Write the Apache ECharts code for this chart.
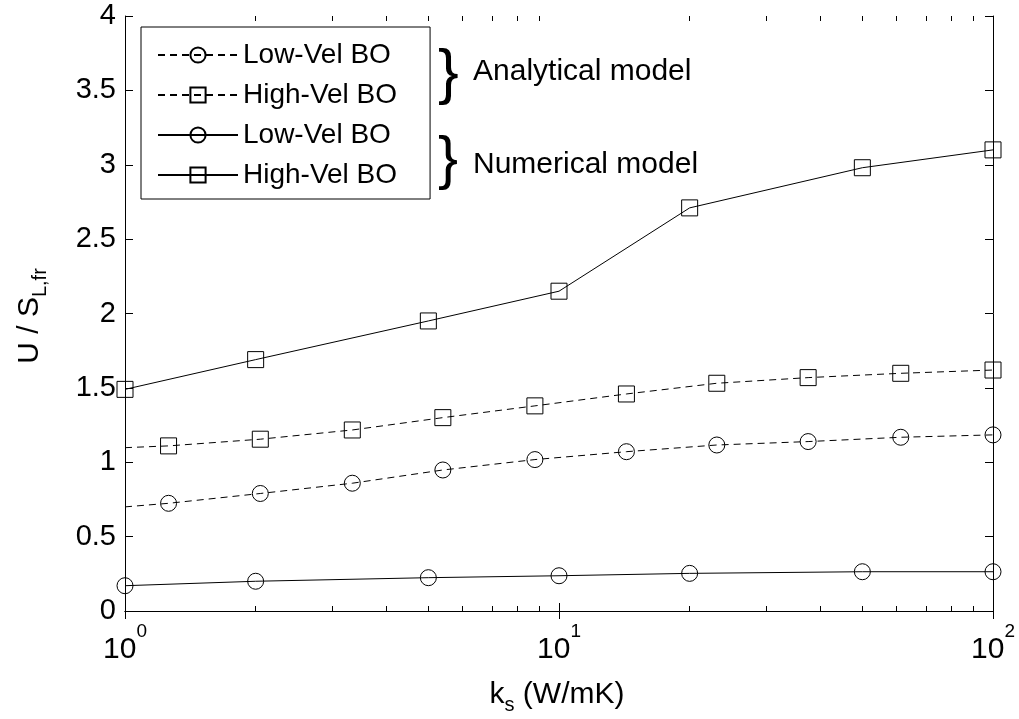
<!DOCTYPE html>
<html>
<head>
<meta charset="utf-8">
<script src="https://cdn.jsdelivr.net/npm/echarts@6/dist/echarts.min.js"></script>
<style>html,body{margin:0;padding:0;background:#fff;}#c{width:1019px;height:719px;}</style>
</head>
<body>
<div id="c"></div>
<script>
// ---- data ----
const xAnalytical = [1, 1.26, 2.05, 3.34, 5.4, 8.8, 14.3, 23.1, 37.5, 61.3, 100];
const analyticalLow = [0.70, 0.724, 0.79, 0.859, 0.948, 1.018, 1.071, 1.116, 1.139, 1.168, 1.184];
const analyticalHigh = [1.098, 1.11, 1.155, 1.217, 1.30, 1.379, 1.459, 1.531, 1.569, 1.598, 1.62];
const xNumerical = [1, 2, 5, 10, 20, 50, 100];
const numericalLow = [0.17, 0.20, 0.224, 0.237, 0.253, 0.264, 0.264];
const numericalHigh = [1.49, 1.69, 1.95, 2.15, 2.71, 2.98, 3.10];
const majorTicksX = [1, 10, 100];
const minorTicksX = [2, 3, 4, 5, 6, 7, 8, 9, 20, 30, 40, 50, 60, 70, 80, 90];
const legendNames = ['Low-Vel BO', 'High-Vel BO', 'Low-Vel BO', 'High-Vel BO'];
const groupLabels = ['Analytical model', 'Numerical model'];

const FONT = 'Liberation Sans, Arial, Helvetica, sans-serif';
const seriesIds = ['a-low', 'a-high', 'n-low', 'n-high'];

function pairs(xs, ys, skipFirstMarker) {
  return xs.map((x, i) => (skipFirstMarker && i === 0) ? { value: [x, ys[i]], symbol: 'none' } : [x, ys[i]]);
}

function mkSeries(idx, xs, ys, symbol, dashed, skipFirst) {
  return {
    name: seriesIds[idx],
    type: 'line',
    xAxisIndex: 0, yAxisIndex: 0,
    data: pairs(xs, ys, skipFirst),
    symbol: symbol,
    symbolSize: 16,
    showAllSymbol: true,
    lineStyle: { color: '#000', width: 1, type: dashed ? [7, 5] : 'solid' },
    itemStyle: { color: 'rgba(0,0,0,0)', borderColor: '#000', borderWidth: 1 },
    emphasis: { disabled: true },
    animation: false,
    z: 3
  };
}

const chart = echarts.init(document.getElementById('c'), null, { renderer: 'canvas' });

const xLabelRich = {
  a: { fontSize: 30, fontFamily: FONT, color: '#000', lineHeight: 43, verticalAlign: 'bottom' },
  b: { fontSize: 19, fontFamily: FONT, color: '#000', lineHeight: 19, verticalAlign: 'top' }
};

const commonX = { type: 'log', logBase: 10, min: 1, max: 100, splitLine: { show: false } };

chart.setOption({
  backgroundColor: '#fff',
  animation: false,
  grid: { left: 125, right: 26, top: 16, bottom: 108 },
  xAxis: [
    Object.assign({}, commonX, {
      position: 'bottom',
      axisLine: { show: true, lineStyle: { color: '#000', width: 1 } },
      axisTick: { show: true, inside: true, length: 8, customValues: majorTicksX, lineStyle: { color: '#000' } },
      axisLabel: {
        show: true, margin: 11, customValues: majorTicksX,
        formatter: v => '{a|10}{b|' + Math.round(Math.log10(v)) + '}',
        rich: xLabelRich
      }
    }),
    Object.assign({}, commonX, {
      position: 'top',
      axisLine: { show: true, lineStyle: { color: '#000', width: 1 } },
      axisTick: { show: true, inside: true, length: 8, customValues: majorTicksX, lineStyle: { color: '#000' } },
      axisLabel: { show: false }
    }),
    Object.assign({}, commonX, {
      position: 'bottom',
      axisLine: { show: false },
      axisTick: { show: true, inside: true, length: 5, customValues: minorTicksX, lineStyle: { color: '#000' } },
      axisLabel: { show: false }
    }),
    Object.assign({}, commonX, {
      position: 'top',
      axisLine: { show: false },
      axisTick: { show: true, inside: true, length: 5, customValues: minorTicksX, lineStyle: { color: '#000' } },
      axisLabel: { show: false }
    })
  ],
  yAxis: [
    {
      type: 'value', position: 'left', min: 0, max: 4, interval: 0.5,
      splitLine: { show: false },
      axisLine: { show: true, lineStyle: { color: '#000', width: 1 } },
      axisTick: { show: true, inside: true, length: 8, lineStyle: { color: '#000' } },
      axisLabel: { show: true, margin: 9, fontSize: 29, fontFamily: FONT, color: '#000' }
    },
    {
      type: 'value', position: 'right', min: 0, max: 4, interval: 0.5,
      splitLine: { show: false },
      axisLine: { show: true, lineStyle: { color: '#000', width: 1 } },
      axisTick: { show: true, inside: true, length: 8, lineStyle: { color: '#000' } },
      axisLabel: { show: false }
    }
  ],
  legend: {
    left: 141, top: 27,
    orient: 'vertical',
    data: seriesIds,
    formatter: name => legendNames[seriesIds.indexOf(name)],
    itemWidth: 80, itemHeight: 19, itemGap: 12,
    padding: [14, 33, 10, 16],
    borderColor: '#000', borderWidth: 1, backgroundColor: '#fff',
    textStyle: { fontSize: 28, fontFamily: FONT, color: '#000' },
    selectedMode: false
  },
  graphic: [
    { type: 'text', left: 438, top: 44, style: { text: '}', fontSize: 62, fontFamily: FONT, fill: '#000' }, z: 10 },
    { type: 'text', left: 438, top: 131, style: { text: '}', fontSize: 60, fontFamily: FONT, fill: '#000' }, z: 10 },
    { type: 'text', x: 473, y: 72, style: { text: groupLabels[0], fontSize: 30, fontFamily: FONT, fill: '#000', verticalAlign: 'middle' }, z: 10 },
    { type: 'text', x: 473, y: 165, style: { text: groupLabels[1], fontSize: 30, fontFamily: FONT, fill: '#000', verticalAlign: 'middle' }, z: 10 },
    {
      type: 'text', x: 557, y: 695,
      style: {
        text: '{a|k}{b|s}{a| (W/mK)}', align: 'center', verticalAlign: 'middle',
        rich: {
          a: { fontSize: 30, fontFamily: FONT, fill: '#000', color: '#000', lineHeight: 40, verticalAlign: 'middle' },
          b: { fontSize: 20, fontFamily: FONT, fill: '#000', color: '#000', lineHeight: 20, verticalAlign: 'bottom' }
        }
      }, z: 10
    },
    {
      type: 'text', x: 30, y: 316, rotation: Math.PI / 2,
      style: {
        text: '{a|U / S}{b|L,fr}', align: 'center', verticalAlign: 'middle',
        rich: {
          a: { fontSize: 30, fontFamily: FONT, fill: '#000', color: '#000', lineHeight: 40, verticalAlign: 'middle' },
          b: { fontSize: 20, fontFamily: FONT, fill: '#000', color: '#000', lineHeight: 20, verticalAlign: 'bottom' }
        }
      }, z: 10
    }
  ],
  series: [
    mkSeries(0, xAnalytical, analyticalLow, 'circle', true, true),
    mkSeries(1, xAnalytical, analyticalHigh, 'rect', true, true),
    mkSeries(2, xNumerical, numericalLow, 'circle', false, false),
    mkSeries(3, xNumerical, numericalHigh, 'rect', false, false)
  ]
});
</script>
</body>
</html>
